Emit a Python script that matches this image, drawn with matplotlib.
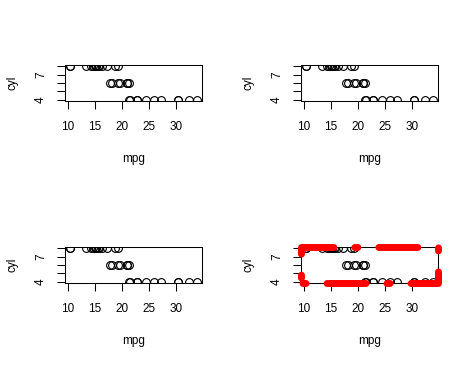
import matplotlib
matplotlib.use('Agg')
import matplotlib.pyplot as plt
from matplotlib.patches import Rectangle

plt.rcParams['font.family'] = ['Liberation Sans', 'DejaVu Sans']
plt.rcParams['lines.scale_dashes'] = False

# mtcars: mpg vs cyl
mpg = [21.0, 21.0, 22.8, 21.4, 18.7, 18.1, 14.3, 24.4, 22.8, 19.2, 17.8,
       16.4, 17.3, 15.2, 10.4, 10.4, 14.7, 32.4, 30.4, 33.9, 21.5, 15.5,
       15.2, 13.3, 19.2, 27.3, 26.0, 30.4, 15.8, 19.7, 15.0, 21.4]
cyl = [6, 6, 4, 6, 8, 6, 8, 4, 4, 6, 6,
       8, 8, 8, 8, 8, 8, 4, 4, 4, 4, 8,
       8, 8, 8, 4, 4, 4, 8, 6, 8, 4]

x_ticks = [10, 15, 20, 25, 30]
y_ticks = [4, 5, 6, 7, 8]
y_ticklabels = ['4', '', '', '7', '']

W, H = 472, 365
fig = plt.figure(figsize=(W / 100, H / 100), dpi=100)

# axes boxes in pixels (left, top, right, bottom)
boxes = [(65, 65, 202, 101), (301, 65, 438, 101),
         (65, 247, 202, 283), (301, 247, 438, 283)]

fs = 8.5
for i, (l, t, r, b) in enumerate(boxes):
    ax = fig.add_axes([l / W, (H - b) / H, (r - l) / W, (b - t) / H])
    ax.plot(mpg, cyl, ls='none', marker='o', mfc='none', mec='black',
            ms=5.6, mew=0.8)
    ax.margins(0.04)
    ax.set_xticks(x_ticks)
    ax.set_yticks(y_ticks)
    ax.set_yticklabels(y_ticklabels, rotation=90, va='center')
    ax.tick_params(length=5.5, width=0.75, labelsize=fs)
    ax.tick_params(axis='x', pad=9)
    ax.tick_params(axis='y', pad=7.5)
    for s in ax.spines.values():
        s.set_linewidth(0.75)
    ax.set_xlabel('mpg', fontsize=fs, labelpad=14)
    ax.set_ylabel('cyl', fontsize=fs, labelpad=12)
    if i == 3:
        # thick red dashed box round the last panel
        ax.add_patch(Rectangle((0, 0), 1, 1, transform=ax.transAxes,
                               fill=False, edgecolor='red', lw=5,
                               linestyle=(59.4, (2.2, 15.1, 28.1, 15.1)),
                               capstyle='round', joinstyle='round',
                               clip_on=False, zorder=5))

fig.savefig('out.png', dpi=100)
